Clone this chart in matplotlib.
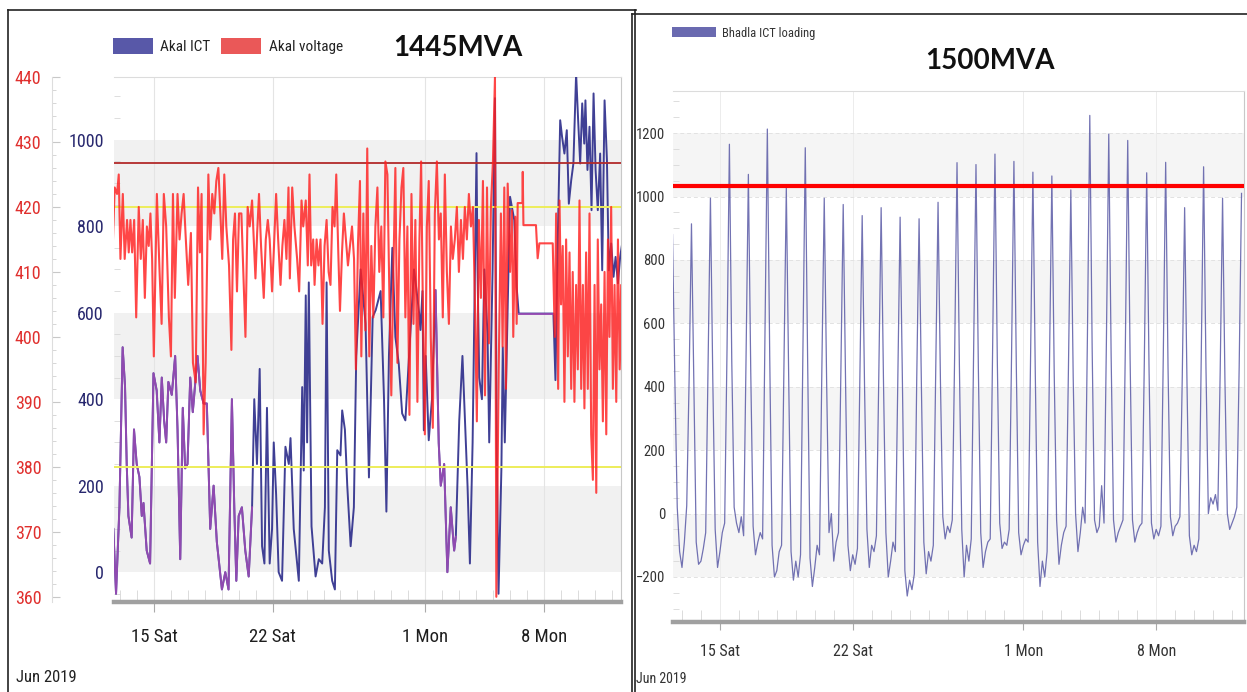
import numpy as np
import pandas as pd
import matplotlib
matplotlib.use('Agg')
import matplotlib.pyplot as plt
import matplotlib.dates as mdates
from matplotlib import font_manager as fm
from matplotlib.patches import Patch
from matplotlib.lines import Line2D
from matplotlib.ticker import MultipleLocator, FixedLocator, FixedFormatter

# ---------------- data (day numbers counted from June 1: July 1 = 31) ----------------
akal_ict_day = [12.59, 12.75, 12.95, 13.14, 13.28, 13.38, 13.48, 13.67, 13.81, 13.97,
                14.13, 14.27, 14.37, 14.56, 14.76, 14.96, 15.15, 15.31, 15.45, 15.59,
                15.71, 15.84, 16.04, 16.24, 16.38, 16.54, 16.69, 16.83, 16.97, 17.13,
                17.28, 17.56, 17.72, 17.92, 18.11, 18.31, 18.51, 18.70, 19.00, 19.20,
                19.39, 19.59, 19.73, 19.85, 19.99, 20.18, 20.38, 20.58, 20.78, 20.91,
                21.07, 21.23, 21.37, 21.51, 21.66, 21.82, 21.96, 22.06, 22.20, 22.35,
                22.55, 22.75, 22.95,
                23.05, 23.24, 23.54, 23.74, 23.83, 23.95, 24.03, 24.13, 24.29, 24.53,
                24.72, 24.92, 25.08, 25.18, 25.31, 25.51, 25.67, 25.81, 26.00, 26.10,
                26.26, 26.40, 26.60, 26.79, 26.93, 27.19, 27.48, 27.68, 27.90, 28.08,
                28.37, 28.57, 28.71, 28.86, 29.06, 29.24, 29.44, 29.64, 29.83, 30.05,
                30.34, 30.42, 30.64, 30.72, 30.84, 30.92, 31.03, 31.21, 31.40, 31.61,
                31.80, 31.92, 32.12, 32.31, 32.51, 32.71,
                32.81, 33.01, 33.20, 33.50, 33.64, 33.80, 34.03, 34.09, 34.19, 34.35,
                34.49, 34.68, 34.78, 34.98, 35.12, 35.22, 35.33, 35.50, 35.58, 35.70,
                36.01, 36.26, 36.40, 36.52, 38.57, 38.69, 38.83, 38.97, 39.08, 39.22,
                39.36, 39.48, 39.62, 39.75, 39.91, 40.03, 40.15, 40.27, 40.39, 40.46,
                40.58, 40.70, 40.82, 40.94, 41.06, 41.19, 41.33, 41.45, 41.59, 41.73,
                41.84, 41.98, 42.12, 42.24, 42.38, 42.51, 42.63]
akal_ict_mva = [100, -50, 150, 520, 430, 250, 130, 80, 330, 250,
                220, 130, 160, 50, 20, 460, 420, 300, 450, 350,
                300, 440, 410, 500, 330, 30, 380, 240, 250, 450,
                370, 500, 420, 390, 390, 100, 200, 70, -40, 0,
                -40, 400, 150, -20, 130, 150, 50, -10, 150, 400,
                250, 470, 60, 20, 380, 20, 100, 300, 180, 0,
                -20, 290, 250,
                310, 100, -20, 428, 235, 640, 300, 670, 106, -10,
                30, 20, 150, 670, 50, -20, -40, 282, 270, 374,
                330, 200, 60, 150, 500, 700, 575, 219, 590, 606,
                650, 400, 140, 500, 750, 544, 482, 367, 351, 500,
                700, 675, 600, 560, 650, 328, 500, 305, 400, 652,
                298, 200, 250, 0, 150, 50,
                82, 350, 500, 200, 20, 300, 969, 700, 450, 400,
                700, 550, 300, 700, 1096, 300, -50, 240, 520, 300,
                868, 814, 660, 598, 598, 444, 775, 1045, 1007, 968,
                1022, 852, 906, 945, 1153, 1045, 945, 1084, 991, 1091,
                930, 1030, 837, 1107, 930, 837, 968, 698, 1091, 953,
                698, 760, 683, 729, 668, 729, 760]

akal_kv_day = [12.57, 12.67, 12.81, 12.91, 13.01, 13.15, 13.26, 13.40, 13.50, 13.60,
               13.70, 13.82, 13.94, 14.09, 14.21, 14.33, 14.45, 14.57, 14.68, 14.78,
               14.88, 14.98, 15.16, 15.32, 15.44, 15.57, 15.71, 15.87, 15.99, 16.11,
               16.22, 16.38, 16.50, 16.62, 16.74, 16.85, 17.01, 17.17, 17.29, 17.45,
               17.59, 17.70, 17.80, 17.92, 18.04, 18.20, 18.31, 18.43, 18.55, 18.67,
               18.79, 18.91, 19.02, 19.14, 19.26, 19.42, 19.56, 19.66, 19.77, 19.89,
               20.01,
               20.15, 20.25, 20.39, 20.52, 20.64, 20.78, 20.88, 20.98, 21.08, 21.19,
               21.31, 21.47, 21.59, 21.71, 21.82, 21.96, 22.06, 22.20, 22.32, 22.46,
               22.57, 22.69, 22.81, 22.93, 23.01, 23.15, 23.28, 23.44, 23.56, 23.70,
               23.80, 23.95, 24.07, 24.17, 24.27, 24.39, 24.47, 24.59, 24.70, 24.82,
               24.94, 25.06, 25.18, 25.30, 25.41, 25.53, 25.65, 25.75, 25.87, 25.97,
               26.09, 26.20, 26.32, 26.44, 26.56, 26.68, 26.80, 26.91, 27.03, 27.15,
               27.23, 27.35, 27.47, 27.58, 27.70,
               27.82, 27.94, 28.06, 28.18, 28.29, 28.41, 28.53, 28.65, 28.77, 28.89,
               29.00, 29.12, 29.24, 29.36, 29.48, 29.60, 29.71, 29.83, 29.95, 30.07,
               30.19, 30.31, 30.42, 30.54, 30.66, 30.76, 30.88, 30.98, 31.10, 31.21,
               31.33, 31.45, 31.57, 31.69, 31.81, 31.92, 32.04, 32.16, 32.28, 32.40,
               32.52, 32.63, 32.75, 32.87, 32.99, 33.11, 33.23, 33.34, 33.46, 33.58,
               33.70, 33.82, 33.94, 34.05, 34.17, 34.29, 34.41, 34.53, 34.65, 34.76,
               34.88, 35.00, 35.12, 35.20,
               35.34, 35.47, 35.57, 35.67, 35.77, 35.87, 36.01, 36.12, 36.20, 36.32,
               36.40, 36.46, 36.74, 36.76, 36.80, 37.54, 37.64, 37.74, 38.53, 38.65,
               38.73, 38.85, 38.93, 39.02, 39.12, 39.22, 39.32, 39.42, 39.52, 39.62,
               39.71, 39.81, 39.91, 40.01, 40.11, 40.21, 40.31, 40.40, 40.50, 40.60,
               40.70, 40.80, 40.90, 41.00, 41.10, 41.19, 41.29, 41.39, 41.49, 41.59,
               41.69, 41.79, 41.88, 41.98, 42.08, 42.18, 42.28, 42.38, 42.48, 42.57,
               42.63]
akal_kv = [415, 423, 422, 425, 412, 422, 412, 418, 413, 418,
           413, 418, 403, 420, 412, 418, 406, 417, 414, 419,
           412, 397, 422, 410, 402, 422, 417, 403, 397, 422,
           406, 422, 415, 419, 422, 416, 408, 416, 396, 393,
           423, 413, 422, 385, 396, 425, 415, 422, 419, 424,
           426, 419, 412, 425, 417, 411, 398, 415, 419, 407,
           419,
           419, 411, 400, 420, 417, 421, 415, 409, 416, 422,
           414, 406, 415, 418, 415, 407, 413, 422, 415, 408,
           414, 418, 412, 423, 409, 423, 417, 412, 407, 421,
           417, 421, 411, 425, 411, 415, 408, 415, 411, 415,
           402, 414, 418, 410, 408, 420, 417, 425, 413, 404,
           413, 419, 415, 411, 414, 417, 412, 395, 414, 424,
           397, 419, 401, 429, 397,
           414, 403, 417, 423, 410, 417, 403, 427, 425, 406,
           391, 410, 426, 396, 415, 423, 426, 403, 417, 388,
           422, 402, 418, 390, 415, 427, 401, 385, 417, 424,
           400, 386, 419, 427, 415, 419, 403, 425, 410, 402,
           417, 412, 415, 420, 410, 418, 412, 420, 415, 422,
           417, 420, 405, 387, 418, 406, 424, 391, 423, 399,
           420, 427, 440, 360,
           395, 419, 398.5, 423, 392, 423.6, 410, 419.5, 400, 418.5,
           402, 420.6, 420.6, 425.4, 417.2, 417.2, 412.1, 414.4, 414.4, 400,
           419, 392, 421, 405, 414, 390, 415, 397, 413, 392,
           410, 390, 408, 395, 421, 392, 408, 389, 413, 392,
           419, 385, 378, 408, 376, 415, 395, 405, 387, 410,
           385, 415, 400, 420, 392, 408, 390, 415, 395, 408,
           392]

# Bhadla ICT loading, 3-hourly from 2019-06-12 12:00 (one row per day)
bhadla_mw = [
    880, 420, 20, -120,
    -170, -90, 25, 420, 914, 400, -90, -160,
    -150, -110, -60, 460, 995, 420, -50, -170,
    -120, -60, -30, 520, 1165, 480, 20, -30,
    -60, -10, -70, 480, 1070, 450, -40, -130,
    -90, -60, -80, 560, 1213, 500, -100, -200,
    -180, -120, -100, 460, 1028, 430, -120, -210,
    -150, -200, -130, 520, 1154, 480, -140, -230,
    -170, -100, -130, 460, 995, 420, -60, 0,
    -150, -90, -60, 440, 975, 410, -100, -180,
    -130, -160, -110, 420, 940, 400, -50, -170,
    -100, -120, -70, 430, 965, 410, -60, -200,
    -150, -90, -120, 420, 935, 400, -180, -260,
    -210, -240, -190, 420, 930, 390, -90, -190,
    -120, -150, -100, 440, 982, 420, -10, -80,
    -40, -60, -20, 500, 1107, 470, -50, -200,
    -100, -150, -80, 500, 1101, 460, -60, -170,
    -120, -90, -80, 510, 1134, 480, -30, -110,
    -90, -100, -50, 500, 1111, 470, -60, -130,
    -100, -80, -90, 480, 1077, 450, -90, -230,
    -150, -200, -120, 480, 1065, 440, -20, -160,
    -100, -60, -40, 460, 1021, 430, 0, -120,
    -60, 20, -30, 560, 1256, 520, -20, -60,
    -40, 88, -30, 540, 1197, 500, -20, -90,
    -60, -40, -20, 530, 1177, 490, -20, -90,
    -60, -40, -30, 480, 1075, 450, -30, -80,
    -50, -70, -40, 500, 1108, 460, -10, -70,
    -40, -30, -10, 430, 965, 410, -70, -130,
    -100, -120, -80, 490, 1094, 460, 0, 50,
    30, 60, 10, 450, 995, 420, 0, -50,
    -30, -10, 20, 460, 1010,
]

x_tick_days = [15, 22, 31, 38]
x_tick_labels = ['15 Sat', '22 Sat', '1 Mon', '8 Mon']
akal_limit_mva = 945
akal_kv_limits = [420, 380]
bhadla_limit_mw = 1033

# ---------------- fonts: prefer a narrow sans if one is installed ----------------
names = {f.name for f in fm.fontManager.ttflist}
narrow_name, narrow_stretch = None, 'normal'
for cand in ['Liberation Sans Narrow', 'Arial Narrow', 'Roboto Condensed',
             'Open Sans Condensed', 'DejaVu Sans Condensed', 'Noto Sans Condensed']:
    if cand in names:
        narrow_name = cand
        break
if narrow_name is None:
    for f in fm.fontManager.ttflist:
        if str(f.stretch) in ('condensed', 'semi-condensed', 'extra-condensed') and f.style == 'normal':
            narrow_name, narrow_stretch = f.name, f.stretch
            break
if narrow_name is None:
    base = ['Liberation Sans', 'DejaVu Sans']
    scale = 0.88
else:
    base = [narrow_name, 'Liberation Sans', 'DejaVu Sans']
    scale = 1.0
plt.rcParams['font.family'] = base
plt.rcParams['font.stretch'] = narrow_stretch

def fs(v):
    return v * scale

# ---------------- helpers ----------------
def to_dt(days):
    return pd.Timestamp('2019-06-01') + pd.to_timedelta(np.asarray(days, float) - 1, unit='D')

W, H = 1247, 692
fig = plt.figure(figsize=(W / 100, H / 100), dpi=100)
fig.patch.set_facecolor('white')

def fx(px):
    return px / W

def fy(py):
    return 1 - py / H

bold_title = ['Lato', 'Open Sans', 'DejaVu Sans']

# ---------------- left panel ----------------
ax = fig.add_axes([fx(113.5), fy(602), fx(621) - fx(113.5), (602 - 77) / H])
ax2 = ax.twinx()
ax.set_zorder(1)
ax2.set_zorder(2)
ax2.patch.set_visible(False)

ict_t = to_dt(akal_ict_day)
kv_t = to_dt(akal_kv_day)
ict_d = np.asarray(akal_ict_day)
ict_v = np.asarray(akal_ict_mva, float)

for lo, hi in [(0, 200), (400, 600), (800, 1000)]:
    ax.axhspan(lo, hi, color='#f1f1f1', zorder=0, lw=0)

ax.plot(ict_t, ict_v, color='#2b2b8a', lw=1.4, alpha=0.9, zorder=3)
for lo, hi in [(12.0, 20.85), (31.45, 32.85), (36.5, 38.6)]:
    m = (ict_d >= lo) & (ict_d <= hi)
    ax.plot(ict_t[m], ict_v[m], color='#9a4cb4', lw=1.4, alpha=0.9, zorder=4)
ax.axhline(akal_limit_mva, color='#b22a2a', lw=1.3, zorder=5)

for lvl in akal_kv_limits:
    ax2.axhline(lvl, color='#eded5a', lw=1.4, zorder=1)
ax2.plot(kv_t, akal_kv, color='#ff1f1f', lw=1.5, alpha=0.82, zorder=3)

x0, x1 = to_dt([12.6, 42.56])
ax.set_xlim(x0, x1)
ax.set_ylim(-69, 1145)
ax2.set_ylim(359.2, 440)

tick_nums = mdates.date2num(to_dt(x_tick_days))
ax.xaxis.set_major_locator(FixedLocator(tick_nums))
ax.xaxis.set_major_formatter(FixedFormatter(x_tick_labels))
ax.xaxis.set_minor_locator(mdates.DayLocator())
ax.tick_params(axis='x', which='major', direction='out', length=7, color='#aaaaaa',
               pad=12, labelsize=fs(13.5), labelcolor='#1e1e1e')
ax.tick_params(axis='x', which='minor', direction='in', length=9, color='#d6d6d6')
ax.grid(axis='x', which='major', color='#e4e4e4', lw=0.8)

ax.set_yticks([0, 200, 400, 600, 800, 1000])
ax.yaxis.set_minor_locator(MultipleLocator(50))
ax.tick_params(axis='y', which='major', length=0, pad=7, labelsize=fs(13), labelcolor='#27276e')
ax.tick_params(axis='y', which='minor', direction='in', length=4, color='#d8d8d8')

ax2.yaxis.set_ticks_position('left')
ax2.yaxis.set_label_position('left')
ax2.set_yticks(list(range(360, 441, 10)))
ax2.yaxis.set_minor_locator(MultipleLocator(2))
ax2.tick_params(axis='y', which='major', direction='in', length=6, color='#c8c8c8',
                pad=8, labelsize=fs(13), labelcolor='#e0302e')
ax2.tick_params(axis='y', which='minor', direction='in', length=3, color='#d0d0d0')
for s in ['right', 'top', 'bottom']:
    ax2.spines[s].set_visible(False)
ax2.spines['left'].set_visible(True)
ax2.spines['left'].set_position(('outward', 44))
ax2.spines['left'].set_color('#dddddd')
ax2.spines['left'].set_linewidth(0.8)

ax.spines['left'].set_visible(False)
ax.spines['top'].set_color('#dcdcdc')
ax.spines['right'].set_color('#c8c8c8')
ax.spines['bottom'].set_color('#a0a0a0')
ax.spines['bottom'].set_linewidth(3.2)

leg = ax.legend(handles=[Patch(facecolor='#5858a8', edgecolor='none', label='Akal ICT'),
                         Patch(facecolor='#ea5858', edgecolor='none', label='Akal voltage')],
                loc='center left', bbox_to_anchor=(fx(113), fy(46)), bbox_transform=fig.transFigure,
                ncol=2, frameon=False, fontsize=fs(11), handlelength=2.6, handleheight=1.2,
                columnspacing=0.7, handletextpad=0.5, borderaxespad=0, borderpad=0)
for t in leg.get_texts():
    t.set_color('#222222')

fig.text(fx(458), fy(48), '1445MVA', fontsize=20, fontweight='bold', family=bold_title,
         ha='center', va='center', color='#111111')
fig.text(fx(16), fy(677), 'Jun 2019', fontsize=fs(12), ha='left', va='center', color='#222222')

# ---------------- right panel ----------------
ax3 = fig.add_axes([fx(672.5), fy(622), fx(1244) - fx(672.5), (622 - 91) / H])
b_t = pd.date_range('2019-06-12 12:00', periods=len(bhadla_mw), freq='3h')
for lo, hi in [(-200, 0), (200, 400), (600, 800), (1000, 1200)]:
    ax3.axhspan(lo, hi, color='#f5f5f5', zorder=0, lw=0)
ax3.grid(axis='y', which='major', color='#e2e2e2', lw=0.7, ls=(0, (4, 3)))
ax3.grid(axis='x', which='major', color='#ececec', lw=0.7)
ax3.plot(b_t, bhadla_mw, color='#5a5aa6', lw=0.9, alpha=0.85, zorder=3)
ax3.axhline(bhadla_limit_mw, color='#ff0000', lw=3.0, zorder=4)
rx0, rx1 = to_dt([12.5, 42.63])
ax3.set_xlim(rx0, rx1)
ax3.set_ylim(-342, 1333)
ax3.set_yticks([-200, 0, 200, 400, 600, 800, 1000, 1200])
ax3.yaxis.set_minor_locator(MultipleLocator(50))
ax3.tick_params(axis='y', which='major', length=0, pad=5, labelsize=fs(10.5), labelcolor='#333333')
ax3.tick_params(axis='y', which='minor', direction='in', length=4, color='#d8d8d8')
ax3.xaxis.set_major_locator(FixedLocator(tick_nums))
ax3.xaxis.set_major_formatter(FixedFormatter(x_tick_labels))
ax3.xaxis.set_minor_locator(mdates.DayLocator())
ax3.tick_params(axis='x', which='major', direction='out', length=6, color='#aaaaaa',
                pad=10, labelsize=fs(11.5), labelcolor='#333333')
ax3.tick_params(axis='x', which='minor', direction='in', length=9, color='#d6d6d6')
ax3.spines['left'].set_visible(False)
ax3.spines['top'].set_color('#dcdcdc')
ax3.spines['right'].set_color('#c8c8c8')
ax3.spines['bottom'].set_color('#a0a0a0')
ax3.spines['bottom'].set_linewidth(3.2)

leg3 = ax3.legend(handles=[Patch(facecolor='#6a6ab0', edgecolor='none', label='Bhadla ICT loading')],
                  loc='center left', bbox_to_anchor=(fx(672), fy(33)), bbox_transform=fig.transFigure,
                  frameon=False, fontsize=fs(9), handlelength=3.5, handleheight=0.8,
                  handletextpad=0.5, borderaxespad=0, borderpad=0)
for t in leg3.get_texts():
    t.set_color('#333333')

fig.text(fx(990), fy(61), '1500MVA', fontsize=20, fontweight='bold', family=bold_title,
         ha='center', va='center', color='#111111')
fig.text(fx(636), fy(679), 'Jun 2019', fontsize=fs(10), ha='left', va='center', color='#333333')

# ---------------- panel frames ----------------
frame = dict(color='#222222', lw=1.2, transform=fig.transFigure)
fig.add_artist(Line2D([fx(8), fx(636)], [fy(10), fy(10)], **frame))
fig.add_artist(Line2D([fx(8), fx(8)], [0, fy(10)], **frame))
fig.add_artist(Line2D([fx(635), fx(635)], [0, fy(10)], **frame))
fig.add_artist(Line2D([fx(632), 1], [fy(14), fy(14)], **frame))
fig.add_artist(Line2D([fx(632), fx(632)], [0, fy(14)], **frame))

fig.savefig('out.png', dpi=100)
